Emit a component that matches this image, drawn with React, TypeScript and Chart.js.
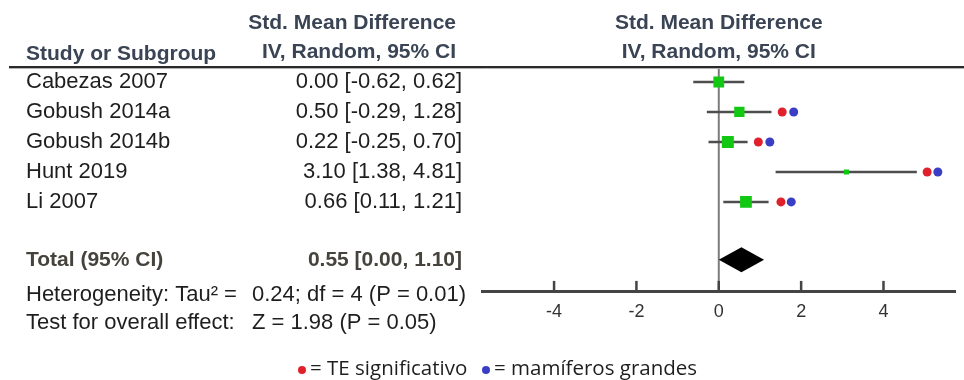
import React, { useEffect, useRef } from "react";
import { Chart, registerables } from "chart.js";

Chart.register(...registerables);

// ---- Data ----
const studies = ["Cabezas 2007", "Gobush 2014a", "Gobush 2014b", "Hunt 2019", "Li 2007"];
const smd = [0.0, 0.5, 0.22, 3.1, 0.66];
const ciLow = [-0.62, -0.29, -0.25, 1.38, 0.11];
const ciHigh = [0.62, 1.28, 0.7, 4.81, 1.21];
const ciLabels = [
  "0.00 [-0.62, 0.62]",
  "0.50 [-0.29, 1.28]",
  "0.22 [-0.25, 0.70]",
  "3.10 [1.38, 4.81]",
  "0.66 [0.11, 1.21]",
];
const studyWeights = [22, 20, 27, 5, 26];
const teSignificantX: (number | null)[] = [null, 1.54, 0.96, 5.06, 1.51];
const largeMammalX: (number | null)[] = [null, 1.82, 1.24, 5.32, 1.76];

const totalEstimate = 0.55;
const totalLow = 0.0;
const totalHigh = 1.1;
const totalName = "Total (95% CI)";
const totalLabel = "0.55 [0.00, 1.10]";

const xTicks = [-4, -2, 0, 2, 4];

const headerStudy = "Study or Subgroup";
const headerLine1 = "Std. Mean Difference";
const headerLine2 = "IV, Random, 95% CI";
const heterogeneityLabel = "Heterogeneity: Tau² = ";
const heterogeneityValue = "0.24; df = 4 (P = 0.01)";
const overallLabel = "Test for overall effect: ";
const overallValue = "Z = 1.98 (P = 0.05)";
const legendRed = "= TE significativo";
const legendBlue = "= mamíferos grandes";

// ---- Layout / style constants ----
const W = 964;
const H = 380;
const TOTAL_ROW = 5.93;
const Y_MIN = -0.5;
const Y_MAX = 6.97;
const TICK_ROW = Y_MAX - 0.17; // tick mark centre, just above the axis line
const FONT = "Liberation Sans, Arial, sans-serif";
const HEADER_COLOR = "#3a4454";
const TOTAL_COLOR = "#46433c";
const TEXT_COLOR = "#1e1e1e";
const GREEN = "#12c812";
const RED = "#e0202a";
const BLUE = "#3a3ec4";
const AXIS_COLOR = "#444444";

const forestPlugin = {
  id: "forestDecor",
  beforeDatasetsDraw(chart: any) {
    const { ctx, chartArea, scales } = chart;
    const x = scales.x;
    const y = scales.y;
    ctx.save();
    // zero line
    const x0 = x.getPixelForValue(0);
    ctx.strokeStyle = "#7c7c7c";
    ctx.lineWidth = 2;
    ctx.beginPath();
    ctx.moveTo(x0, chartArea.top);
    ctx.lineTo(x0, chartArea.bottom);
    ctx.stroke();
    // diamond
    const ty = y.getPixelForValue(TOTAL_ROW);
    ctx.fillStyle = "#000";
    ctx.beginPath();
    ctx.moveTo(x.getPixelForValue(totalLow), ty);
    ctx.lineTo(x.getPixelForValue(totalEstimate), ty - 12.5);
    ctx.lineTo(x.getPixelForValue(totalHigh), ty);
    ctx.lineTo(x.getPixelForValue(totalEstimate), ty + 12.5);
    ctx.closePath();
    ctx.fill();
    ctx.restore();
  },
  afterDraw(chart: any) {
    const ctx = chart.ctx;
    const x = chart.scales.x;
    const y = chart.scales.y;
    ctx.save();

    // header rule
    ctx.strokeStyle = "#2a2a2a";
    ctx.lineWidth = 2;
    ctx.beginPath();
    ctx.moveTo(9, 67);
    ctx.lineTo(W, 67);
    ctx.stroke();
    ctx.strokeStyle = "#b0b0b0";
    ctx.lineWidth = 1;
    ctx.beginPath();
    ctx.moveTo(9, 68.5);
    ctx.lineTo(W, 68.5);
    ctx.stroke();

    ctx.textBaseline = "middle";
    // headers
    ctx.fillStyle = HEADER_COLOR;
    ctx.font = `bold 21px ${FONT}`;
    ctx.textAlign = "left";
    ctx.fillText(headerStudy, 26, 54);
    ctx.textAlign = "right";
    ctx.fillText(headerLine1, 456, 23);
    ctx.fillText(headerLine2, 456, 52);
    ctx.textAlign = "center";
    const xc = x.getPixelForValue(0);
    ctx.fillText(headerLine1, xc, 23);
    ctx.fillText(headerLine2, xc, 52);

    // study rows
    ctx.fillStyle = TEXT_COLOR;
    ctx.font = `22px ${FONT}`;
    studies.forEach((s, i) => {
      const py = y.getPixelForValue(i);
      ctx.textAlign = "left";
      ctx.fillText(s, 26, py);
      ctx.textAlign = "right";
      ctx.fillText(ciLabels[i], 462, py);
    });

    // total row
    const ty = y.getPixelForValue(TOTAL_ROW);
    ctx.fillStyle = TOTAL_COLOR;
    ctx.font = `bold 21px ${FONT}`;
    ctx.textAlign = "left";
    ctx.fillText(totalName, 26, ty);
    ctx.textAlign = "right";
    ctx.fillText(totalLabel, 462, ty);

    // stats
    ctx.fillStyle = TEXT_COLOR;
    ctx.font = `22px ${FONT}`;
    ctx.textAlign = "left";
    ctx.fillText(heterogeneityLabel, 26, 295);
    ctx.fillText(heterogeneityValue, 252, 295);
    ctx.fillText(overallLabel, 26, 323);
    ctx.fillText(overallValue, 252, 323);

    // legend
    ctx.font = `20.5px "Open Sans", sans-serif`;
    ctx.fillStyle = RED;
    ctx.beginPath();
    ctx.arc(302, 370, 4, 0, Math.PI * 2);
    ctx.fill();
    ctx.fillStyle = BLUE;
    ctx.beginPath();
    ctx.arc(486, 370, 4, 0, Math.PI * 2);
    ctx.fill();
    ctx.fillStyle = TEXT_COLOR;
    ctx.fillText(legendRed, 310, 369);
    ctx.fillText(legendBlue, 494, 369);
    ctx.restore();
  },
};

export default function App() {
  const canvasRef = useRef<HTMLCanvasElement | null>(null);

  useEffect(() => {
    document.body.style.margin = "0";
    const canvas = canvasRef.current;
    if (!canvas) return;

    const ciDatasets = studies.map((s, i) => ({
      type: "scatter" as const,
      label: s + " CI",
      data: [
        { x: ciLow[i], y: i },
        { x: ciHigh[i], y: i },
      ],
      showLine: true,
      borderColor: "#4e4e4e",
      borderWidth: 2.5,
      pointRadius: 0,
      order: 3,
    }));

    const squares = {
      type: "scatter" as const,
      label: "Estimates",
      data: smd.map((v, i) => ({ x: v, y: i })),
      pointStyle: "rect" as const,
      pointRadius: studyWeights.map((w) => (Math.sqrt(w) * 2.3) / Math.SQRT2),
      backgroundColor: GREEN,
      borderColor: GREEN,
      borderWidth: 0,
      order: 1,
    };

    const redDots = {
      type: "scatter" as const,
      label: "TE significativo",
      data: teSignificantX
        .map((v, i) => (v === null ? null : { x: v, y: i }))
        .filter((d) => d !== null),
      pointRadius: 4.5,
      backgroundColor: RED,
      borderWidth: 0,
      order: 0,
    };

    const blueDots = {
      type: "scatter" as const,
      label: "mamíferos grandes",
      data: largeMammalX
        .map((v, i) => (v === null ? null : { x: v, y: i }))
        .filter((d) => d !== null),
      pointRadius: 4.5,
      backgroundColor: BLUE,
      borderWidth: 0,
      order: 0,
    };

    // upward tick marks on the x axis, drawn as vertical line markers
    const tickMarks = {
      type: "scatter" as const,
      label: "ticks",
      data: xTicks.map((v) => ({ x: v, y: TICK_ROW })),
      pointStyle: "line" as const,
      rotation: 90,
      pointRadius: 5,
      borderColor: AXIS_COLOR,
      backgroundColor: AXIS_COLOR,
      borderWidth: 2.5,
      clip: false as const,
      order: 2,
    };

    const chart = new Chart(canvas, {
      type: "scatter",
      data: { datasets: [...ciDatasets, tickMarks, squares, blueDots, redDots] as any },
      options: {
        responsive: false,
        animation: false,
        events: [],
        layout: { padding: { left: 482, right: 6, top: 67, bottom: 0 } },
        plugins: {
          legend: { display: false },
          tooltip: { enabled: false },
        },
        scales: {
          x: {
            type: "linear",
            min: -5.75,
            max: 5.75,
            afterBuildTicks: (scale: any) => {
              scale.ticks = xTicks.map((v) => ({ value: v }));
            },
            afterFit: (scale: any) => {
              scale.height = H - 291;
            },
            grid: { display: false, drawTicks: false },
            border: { display: true, color: AXIS_COLOR, width: 3 },
            ticks: {
              padding: 10,
              color: "#333",
              font: { family: FONT, size: 18 },
              maxRotation: 0,
              autoSkip: false,
            },
          },
          y: {
            type: "linear",
            display: false,
            reverse: true,
            min: Y_MIN,
            max: Y_MAX,
          },
        },
      },
      plugins: [forestPlugin],
    });

    return () => chart.destroy();
  }, []);

  return (
    <div style={{ width: W, height: H }}>
      <canvas ref={canvasRef} width={W} height={H} style={{ display: "block" }} />
    </div>
  );
}
